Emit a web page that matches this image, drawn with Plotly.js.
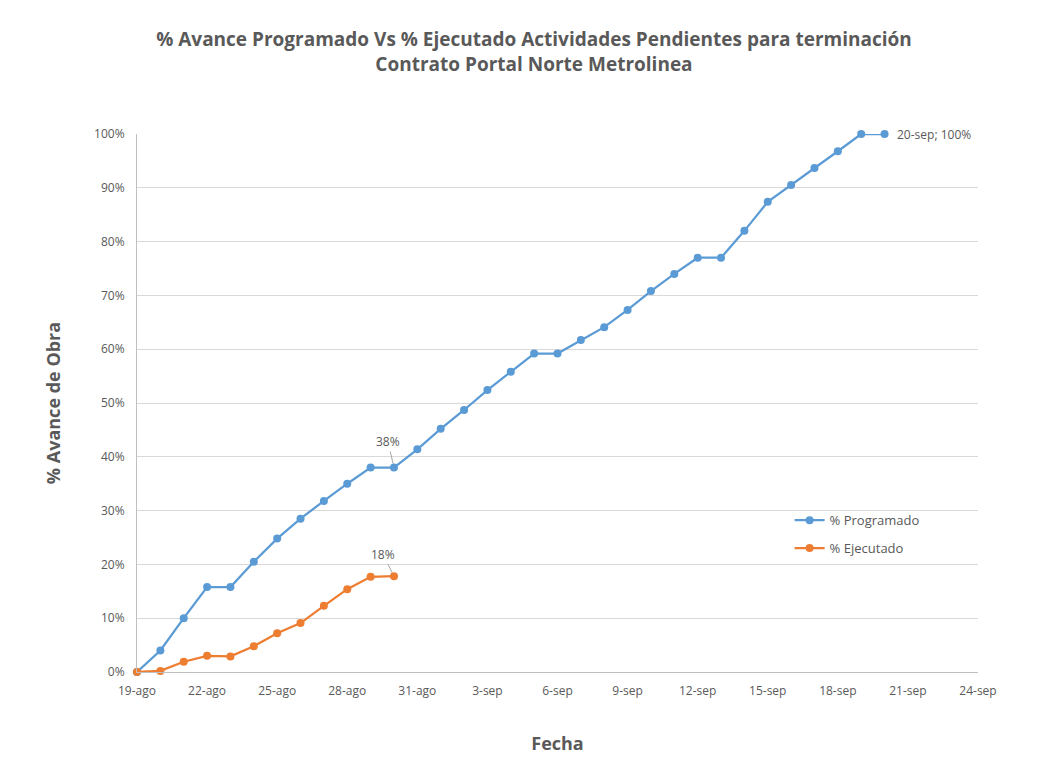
<!DOCTYPE html>
<html>
<head>
<meta charset="utf-8">
<script src="https://cdn.plot.ly/plotly-3.0.1.min.js"></script>
<style>html,body{margin:0;padding:0;background:#fff;}#chart{width:1047px;height:771px;}</style>
</head>
<body>
<div id="chart"></div>
<script>
const fechasProg = ["2023-08-19","2023-08-20","2023-08-21","2023-08-22","2023-08-23","2023-08-24","2023-08-25","2023-08-26","2023-08-27","2023-08-28","2023-08-29","2023-08-30","2023-08-31",
  "2023-09-01","2023-09-02","2023-09-03","2023-09-04","2023-09-05","2023-09-06","2023-09-07","2023-09-08","2023-09-09","2023-09-10","2023-09-11","2023-09-12","2023-09-13","2023-09-14","2023-09-15","2023-09-16","2023-09-17","2023-09-18","2023-09-19","2023-09-20"];
const programado = [0, 0.04, 0.10, 0.158, 0.158, 0.205, 0.248, 0.285, 0.318, 0.35, 0.38, 0.38, 0.414,
  0.452, 0.487, 0.524, 0.558, 0.592, 0.592, 0.617, 0.641, 0.673, 0.708, 0.74, 0.77, 0.77, 0.82, 0.874, 0.905, 0.937, 0.968, 1.0, 1.0];
const fechasEjec = ["2023-08-19","2023-08-20","2023-08-21","2023-08-22","2023-08-23","2023-08-24","2023-08-25","2023-08-26","2023-08-27","2023-08-28","2023-08-29","2023-08-30"];
const ejecutado = [0, 0.002, 0.019, 0.03, 0.029, 0.048, 0.072, 0.091, 0.123, 0.154, 0.177, 0.178];
const tickFechas = ["2023-08-19","2023-08-22","2023-08-25","2023-08-28","2023-08-31","2023-09-03","2023-09-06","2023-09-09","2023-09-12","2023-09-15","2023-09-18","2023-09-21","2023-09-24"];
const tickTextos = ["19-ago","22-ago","25-ago","28-ago","31-ago","3-sep","6-sep","9-sep","12-sep","15-sep","18-sep","21-sep","24-sep"];

const fontFam = "Open Sans, Noto Sans, sans-serif";
const gris = "#595959";

const traces = [
  {x: fechasProg, y: programado, name: "% Programado", legendgroup: "p", type: "scatter", mode: "lines+markers",
   line: {color: "#5B9BD5", width: 2.25}, marker: {color: "#5B9BD5", size: 8}, cliponaxis: false},
  {x: fechasEjec, y: ejecutado, name: "% Ejecutado", legendgroup: "e", type: "scatter", mode: "lines+markers",
   line: {color: "#ED7D31", width: 2.25}, marker: {color: "#ED7D31", size: 8}, cliponaxis: false}
];

const layout = {
  width: 1047, height: 771,
  margin: {l: 137, r: 69, t: 134, b: 99},
  paper_bgcolor: "#fff", plot_bgcolor: "#fff",
  font: {family: fontFam, color: gris, size: 12},
  title: {text: "<b>% Avance Programado Vs % Ejecutado Actividades Pendientes para terminación<br>Contrato Portal Norte Metrolinea</b>",
          font: {size: 19, color: gris, family: fontFam, lineposition: "none"}, x: 0.51, xanchor: "center", y: 0.94, yanchor: "top"},
  xaxis: {type: "date", range: ["2023-08-19", "2023-09-24"], tickvals: tickFechas, ticktext: tickTextos,
          showgrid: false, zeroline: false, showline: true, linecolor: "#BFBFBF", linewidth: 1,
          ticks: "outside", ticklen: 8, tickcolor: "rgba(0,0,0,0)", tickfont: {size: 12, color: gris},
          title: {text: "<b>Fecha</b>", font: {size: 18, color: gris}, standoff: 38}},
  yaxis: {range: [0, 1], tickvals: [0,0.1,0.2,0.3,0.4,0.5,0.6,0.7,0.8,0.9,1], tickformat: ".0%",
          showgrid: true, gridcolor: "#D9D9D9", gridwidth: 1, zeroline: false,
          showline: true, linecolor: "#BFBFBF", linewidth: 1, ticks: "outside", ticklen: 9, tickcolor: "rgba(0,0,0,0)",
          tickfont: {size: 12, color: gris},
          title: {text: "<b>% Avance de Obra</b>", font: {size: 18, color: gris}, standoff: 28}},
  legend: {x: 0.776, y: 0.31, xanchor: "left", yanchor: "top", bgcolor: "rgba(0,0,0,0)",
           font: {size: 13, color: gris}, tracegroupgap: 8},
  showlegend: true,
  annotations: [
    {x: fechasProg[11], y: programado[11], text: "38%", showarrow: true, arrowhead: 0, arrowwidth: 1,
     arrowcolor: "#A6A6A6", ax: -6, ay: -26, font: {size: 12, color: gris}, standoff: 4},
    {x: fechasEjec[11], y: ejecutado[11], text: "18%", showarrow: true, arrowhead: 0, arrowwidth: 1,
     arrowcolor: "#A6A6A6", ax: -11, ay: -22, font: {size: 12, color: gris}, standoff: 4},
    {x: fechasProg[32], y: programado[32], text: "20-sep; 100%", showarrow: false, xanchor: "left",
     xshift: 10, font: {size: 12, color: gris}}
  ]
};

Plotly.newPlot("chart", traces, layout, {displayModeBar: false, staticPlot: true});
</script>
</body>
</html>
